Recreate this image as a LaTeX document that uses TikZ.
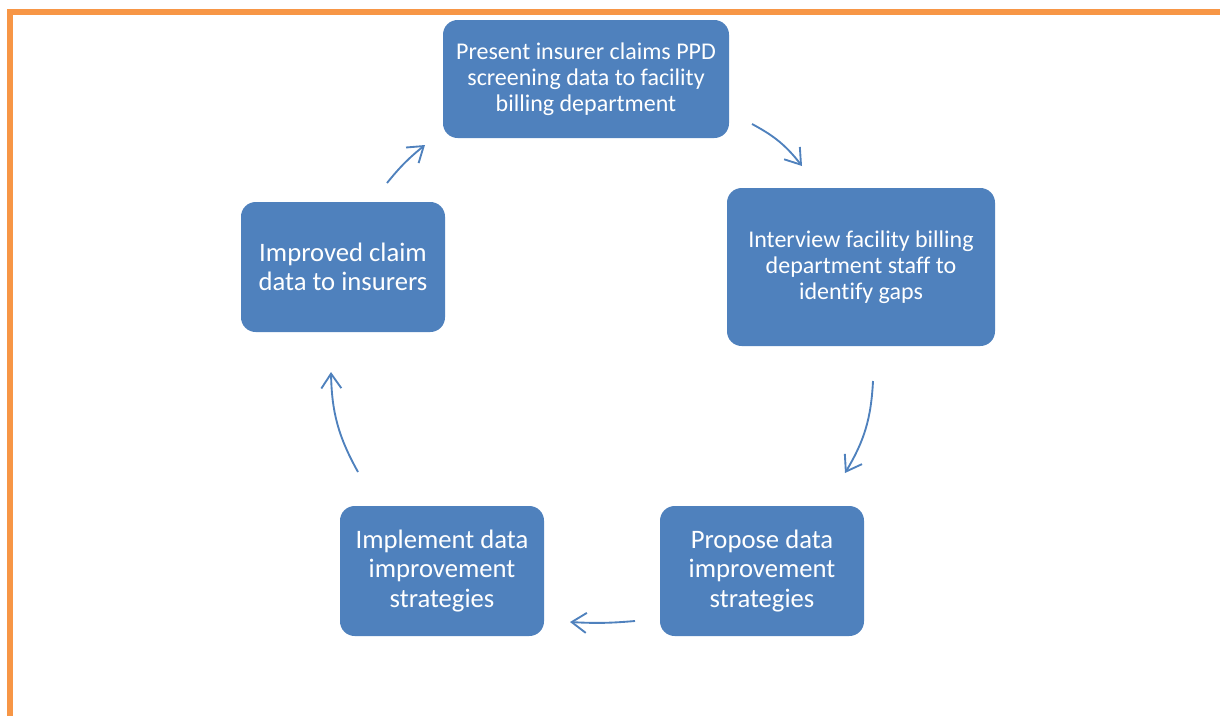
\documentclass[tikz,border=0pt]{standalone}
\usepackage{fontspec}
\setmainfont{Carlito}[Ligatures=NoCommon]
\usepackage{xcolor}
\usepackage{tikz}
\usetikzlibrary{arrows.meta}
\definecolor{boxblue}{HTML}{4F81BD}
\definecolor{frameorange}{HTML}{F79646}
\def\largeur{1220}
\def\hauteur{715}

\begin{document}
\begin{tikzpicture}[x=0.75pt, y=-0.75pt,
    stepbox/.style={rectangle, rounded corners=11pt, fill=boxblue, text=white,
        align=center, inner sep=0pt, font=\fontsize{18}{19.5}\selectfont},
    bigbox/.style={stepbox, font=\fontsize{20}{22}\selectfont},
    cycle/.style={boxblue, line width=1.4pt, -{Straight Barb[length=11pt, width=15pt, line width=1.4pt]}}]
\useasboundingbox (0,0) rectangle (\largeur,\hauteur);
% cadre orange
\draw[frameorange, line width=3.8pt] (10,\hauteur+20) -- (10,12) -- (\largeur+20,12);
% les cinq etapes
\node[stepbox, minimum width=286*0.75pt, minimum height=118*0.75pt] (present) at (586,79)
    {Present insurer claims PPD\\screening data to facility\\billing department};
\node[stepbox, minimum width=268*0.75pt, minimum height=158*0.75pt] (interview) at (861,267)
    {Interview facility billing\\department staff to\\identify gaps};
\node[bigbox, minimum width=204*0.75pt, minimum height=130*0.75pt] (propose) at (762,571)
    {Propose data\\improvement\\strategies};
\node[bigbox, minimum width=204*0.75pt, minimum height=130*0.75pt] (implement) at (442,571)
    {Implement data\\improvement\\strategies};
\node[bigbox, minimum width=204*0.75pt, minimum height=130*0.75pt] (improved) at (343,267)
    {Improved claim\\data to insurers};
% bouts des fleches
\coordinate (a1) at (752,124);
\coordinate (b1) at (802,166);
\coordinate (a2) at (873,381);
\coordinate (b2) at (845,473);
\coordinate (a3) at (635,621);
\coordinate (b3) at (570,622);
\coordinate (a4) at (358,472);
\coordinate (b4) at (331,372);
\coordinate (a5) at (387,183);
\coordinate (b5) at (425,145);
\draw[cycle] (a1) to[bend left=12] (b1);
\draw[cycle] (a2) to[bend left=14] (b2);
\draw[cycle] (a3) to[bend left=4] (b3);
\draw[cycle] (a4) to[bend left=14] (b4);
\draw[cycle] (a5) to[bend left=6] (b5);
\end{tikzpicture}
\end{document}
